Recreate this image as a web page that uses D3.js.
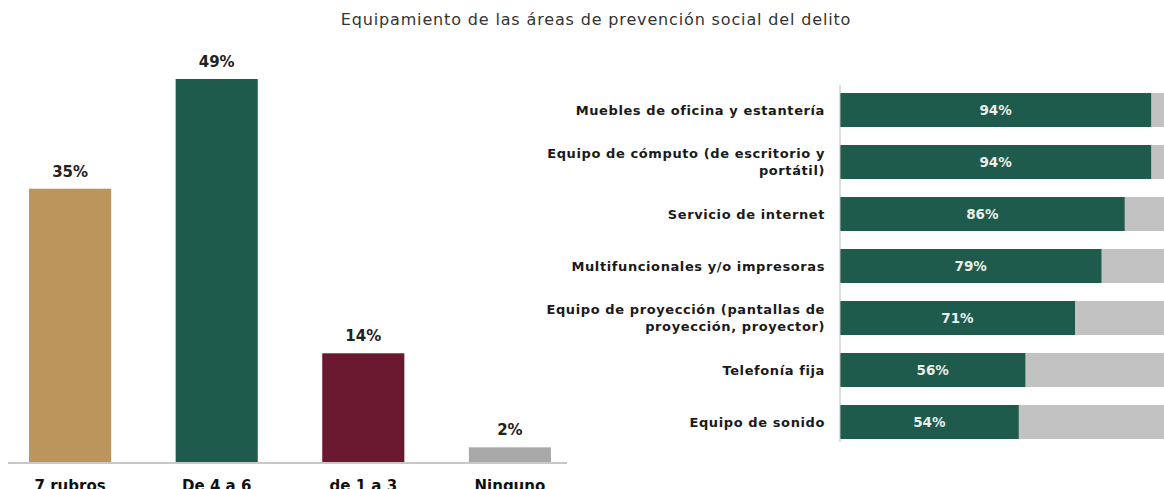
<!DOCTYPE html>
<html>
<head>
<meta charset="utf-8">
<script src="https://cdn.jsdelivr.net/npm/d3@7"></script>
<style>
  body { margin: 0; background: #fff; }
  svg { display: block; font-family: "DejaVu Sans", sans-serif; }
</style>
</head>
<body>
<div id="chart"></div>
<script>
const title = "Equipamiento de las áreas de prevención social del delito";

// left chart: number of rubros
const groups = ["7 rubros", "De 4 a 6", "de 1 a 3", "Ninguno"];
const groupValues = [35, 49, 14, 2];
const groupColors = ["#bc955c", "#1f5b4c", "#6a1830", "#a8a8a8"];

// right chart: equipment
const items = [
  "Muebles de oficina y estantería",
  "Equipo de cómputo (de escritorio y|portátil)",
  "Servicio de internet",
  "Multifuncionales y/o impresoras",
  "Equipo de proyección (pantallas de|proyección, proyector)",
  "Telefonía fija",
  "Equipo de sonido"
];
const itemValues = [94, 94, 86, 79, 71, 56, 54];

const W = 1164, H = 489;
const svg = d3.select("#chart").append("svg")
  .attr("width", W)
  .attr("height", H);

svg.append("text")
  .attr("x", 596)
  .attr("y", 25)
  .attr("text-anchor", "middle")
  .attr("font-size", 16)
  .attr("letter-spacing", 0.85)
  .attr("fill", "#333")
  .text(title);

// ---- left bars
const x1 = d3.scaleBand()
  .domain(groups)
  .range([10, 570])
  .paddingInner(0.44)
  .paddingOuter(0.13);

const y1 = d3.scaleLinear()
  .domain([0, 49])
  .range([463, 79]);

const left = svg.append("g");

left.selectAll("rect")
  .data(groups)
  .enter()
  .append("rect")
  .attr("x", d => x1(d))
  .attr("width", x1.bandwidth())
  .attr("y", (d, i) => y1(groupValues[i]))
  .attr("height", (d, i) => y1(0) - y1(groupValues[i]))
  .attr("fill", (d, i) => groupColors[i]);

left.selectAll(".val")
  .data(groups)
  .enter()
  .append("text")
  .attr("class", "val")
  .attr("x", d => x1(d) + x1.bandwidth() / 2)
  .attr("y", (d, i) => y1(groupValues[i]) - 12)
  .attr("text-anchor", "middle")
  .attr("font-size", 15)
  .attr("font-weight", "bold")
  .attr("fill", "#222")
  .text((d, i) => groupValues[i] + "%");

const xAxis = left.append("g")
  .attr("transform", "translate(0," + y1(0) + ")")
  .call(d3.axisBottom(x1).tickSize(0).tickPadding(17));
xAxis.select(".domain")
  .attr("d", "M8,0H567")
  .attr("stroke", "#c8c8c8")
  .attr("stroke-width", 2);
xAxis.selectAll("text")
  .attr("font-size", 15)
  .attr("font-weight", "bold")
  .attr("font-family", "'DejaVu Sans', sans-serif")
  .attr("fill", "#111");

// ---- right bars
const x2 = d3.scaleLinear()
  .domain([0, 100])
  .range([840, 1171]);

const y2 = d3.scaleBand()
  .domain(items)
  .range([84, 448])
  .paddingInner(0.346)
  .paddingOuter(0.173);

const right = svg.append("g");

right.selectAll(".bg")
  .data(items)
  .enter()
  .append("rect")
  .attr("class", "bg")
  .attr("x", x2(0))
  .attr("width", x2(100) - x2(0))
  .attr("y", d => y2(d))
  .attr("height", y2.bandwidth())
  .attr("fill", "#c2c2c2");

right.selectAll(".bar")
  .data(items)
  .enter()
  .append("rect")
  .attr("class", "bar")
  .attr("x", x2(0))
  .attr("width", (d, i) => x2(itemValues[i]) - x2(0))
  .attr("y", d => y2(d))
  .attr("height", y2.bandwidth())
  .attr("fill", "#1f5b4c");

right.selectAll(".val")
  .data(items)
  .enter()
  .append("text")
  .attr("class", "val")
  .attr("x", (d, i) => (x2(0) + x2(itemValues[i])) / 2)
  .attr("y", d => y2(d) + y2.bandwidth() / 2)
  .attr("dy", "0.35em")
  .attr("text-anchor", "middle")
  .attr("font-size", 13.5)
  .attr("font-weight", "bold")
  .attr("fill", "#e8eee9")
  .text((d, i) => itemValues[i] + "%");

const yAxis = right.append("g")
  .attr("transform", "translate(" + x2(0) + ",0)")
  .call(d3.axisLeft(y2).tickSize(0).tickFormat(""));
yAxis.select(".domain")
  .attr("d", "M0,85V442")
  .attr("stroke", "#bbb");

// category labels, may wrap to two lines
right.selectAll(".lbl")
  .data(items)
  .enter()
  .append("text")
  .attr("class", "lbl")
  .attr("text-anchor", "end")
  .attr("font-size", 13)
  .attr("font-weight", "bold")
  .attr("letter-spacing", 0.6)
  .attr("fill", "#1a1a1a")
  .each(function(d) {
    const lines = d.split("|");
    const cy = y2(d) + y2.bandwidth() / 2;
    const t = d3.select(this);
    lines.forEach((s, k) => {
      t.append("tspan")
        .attr("x", 825)
        .attr("y", cy + (k - (lines.length - 1) / 2) * 17)
        .attr("dy", "0.35em")
        .text(s);
    });
  });
</script>
</body>
</html>
